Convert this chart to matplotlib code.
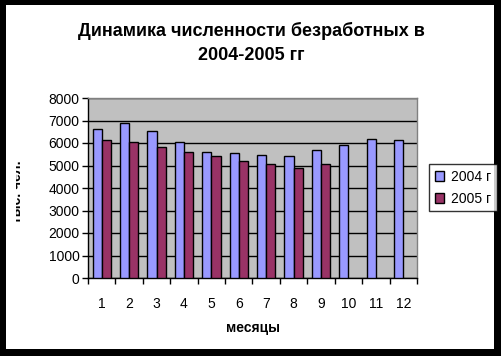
import numpy as np
import matplotlib
matplotlib.use("Agg")
import matplotlib.pyplot as plt
from matplotlib.patches import Rectangle
from matplotlib.transforms import Bbox, TransformedBbox

plt.rcParams['font.family'] = ['Liberation Sans', 'DejaVu Sans']

months = ["1", "2", "3", "4", "5", "6", "7", "8", "9", "10", "11", "12"]
series_names = ["2004 г", "2005 г"]
values_2004 = [6640, 6900, 6530, 6040, 5600, 5560, 5470, 5410, 5670, 5910, 6180, 6120]
values_2005 = [6120, 6050, 5820, 5600, 5410, 5200, 5060, 4880, 5060, np.nan, np.nan, np.nan]
title = "Динамика численности безработных в\n2004-2005 гг"
xlabel = "месяцы"
ylabel = "тыс. чел."

W, H = 502, 356
fig = plt.figure(figsize=(W / 100, H / 100), dpi=100, facecolor="black")
# white chart area inside black frame
fig.patches.append(Rectangle((6 / W, 1 - 349 / H), (494 - 6) / W, (349 - 5) / H,
                             transform=fig.transFigure, facecolor="white",
                             edgecolor="none", zorder=-5))

ax = fig.add_axes([88 / W, 1 - 278 / H, (417 - 88) / W, (278 - 98) / H])
ax.set_zorder(2)
ax.set_facecolor("#C0C0C0")

x = np.arange(len(months))
bw = 0.333
ax.bar(x - bw / 2, values_2004, width=bw, color="#9999FF", edgecolor="black",
       linewidth=1, label=series_names[0], zorder=3)
ax.bar(x + bw / 2, values_2005, width=bw, color="#993366", edgecolor="black",
       linewidth=1, label=series_names[1], zorder=3)

ax.set_xlim(-0.5, len(months) - 0.5)
ax.set_ylim(0, 8000)
ax.set_yticks(np.arange(0, 8001, 1000))
ax.yaxis.grid(True, color="black", linewidth=1, zorder=1)
ax.set_axisbelow(True)

ax.set_xticks(np.arange(-0.5, len(months), 1))
ax.set_xticklabels([])
ax.set_xticks(x, minor=True)
ax.set_xticklabels(months, minor=True, fontsize=10)
ax.tick_params(axis="x", which="minor", length=0, pad=14)
ax.tick_params(axis="x", which="major", length=4, direction="out", width=1, color="black")
ax.tick_params(axis="y", length=4, direction="out", width=1, labelsize=10, pad=2)

for s in ["left", "bottom"]:
    ax.spines[s].set_color("black")
    ax.spines[s].set_linewidth(1)
for s in ["top", "right"]:
    ax.spines[s].set_color("#808080")
    ax.spines[s].set_linewidth(1)

fig.text(251 / W, 1 - 43 / H, title, ha="center", va="center", fontsize=13,
         fontweight="bold", linespacing=1.6)
fig.text(253 / W, 1 - 328 / H, xlabel, ha="center", va="center", fontsize=10,
         fontweight="bold")

yl = fig.text(24 / W, 1 - 192 / H, ylabel, rotation=90, ha="right", va="center",
              fontsize=10, fontweight="bold")
yl.set_clip_box(TransformedBbox(Bbox([[16 / W, 0], [1, 1]]), fig.transFigure))
yl.set_clip_on(True)

leg = fig.legend(loc="upper left", bbox_to_anchor=(429 / W, 1 - 164 / H),
                 frameon=True, fancybox=False, fontsize=10, handlelength=0.7,
                 handleheight=0.7, handletextpad=0.5, borderpad=0.4,
                 labelspacing=0.6, borderaxespad=0)
leg.get_frame().set_edgecolor("black")
leg.get_frame().set_linewidth(1)

fig.savefig("out.png", dpi=100, facecolor=fig.get_facecolor())
